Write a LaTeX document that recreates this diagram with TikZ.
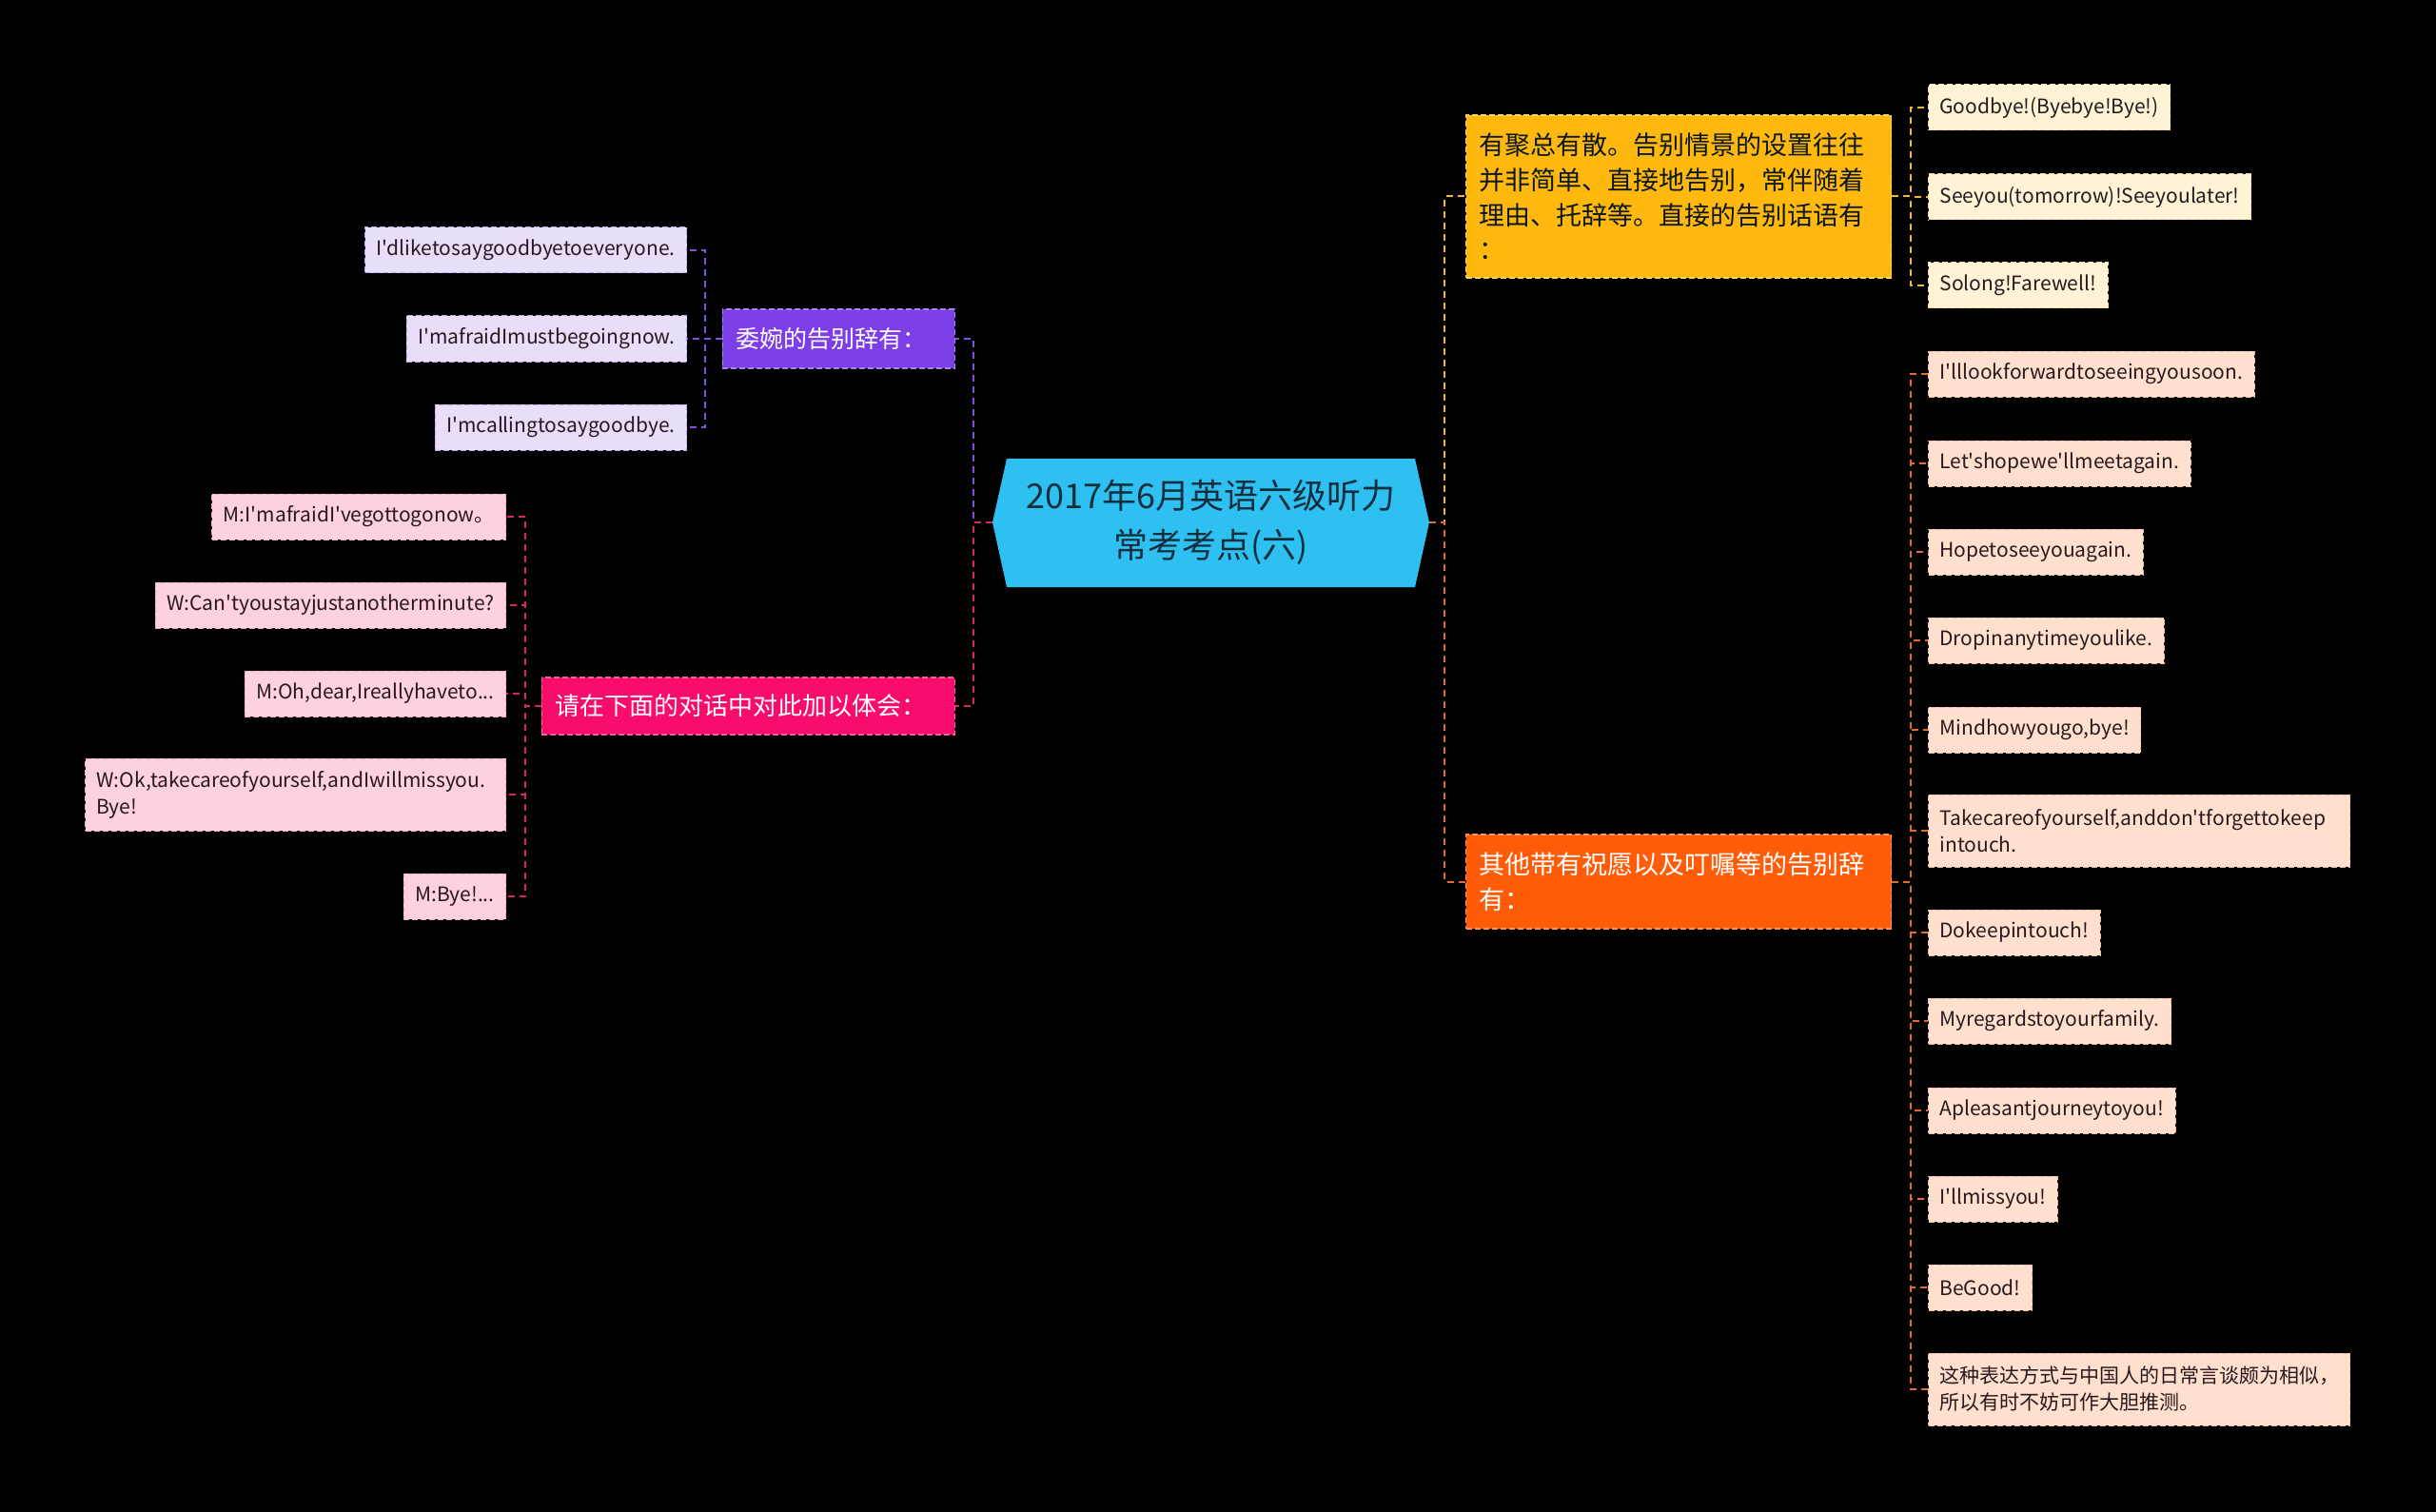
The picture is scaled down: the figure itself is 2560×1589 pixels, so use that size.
\documentclass[tikz,border=0pt]{standalone}
\usepackage{fontspec}
\newfontfamily\cjkfont{Noto Sans CJK SC}
\usetikzlibrary{
    positioning,
    calc
}
\definecolor{RootCyan}{RGB}{46,192,240}
\definecolor{RootInk}{RGB}{24,58,76}
\definecolor{BranchPurple}{RGB}{124,62,230}
\definecolor{LeafPurple}{RGB}{232,222,250}
\definecolor{LinePurple}{RGB}{130,80,225}
\definecolor{BranchPink}{RGB}{248,12,108}
\definecolor{LeafPink}{RGB}{253,208,226}
\definecolor{LinePink}{RGB}{215,40,100}
\definecolor{BranchAmber}{RGB}{255,184,14}
\definecolor{LeafAmber}{RGB}{255,243,215}
\definecolor{LineAmber}{RGB}{240,185,40}
\definecolor{BranchOrange}{RGB}{255,92,10}
\definecolor{LeafOrange}{RGB}{255,224,206}
\definecolor{LineOrange}{RGB}{230,105,45}
\definecolor{LeafInk}{RGB}{40,25,30}

\begin{document}
\begin{tikzpicture}[
    x=1pt, y=-1pt,
    link/.style={dash pattern=on 7pt off 5pt, line width=2pt},
    branch/.style={rectangle, dash pattern=on 6pt off 3pt, line width=1.2pt,
        inner xsep=14pt, inner ysep=0pt, align=left},
    leaf/.style={rectangle, dash pattern=on 6pt off 3pt, line width=1pt,
        inner xsep=12pt, inner ysep=0pt, minimum height=48pt, align=left,
        text=LeafInk, font=\cjkfont\fontsize{21}{28}\selectfont}
]

\useasboundingbox (0,0) rectangle (2560,1589);
\fill[black] (0,0) rectangle (2560,1589);

\fill[RootCyan]
    (1043,549) -- (1058,482) -- (1487,482) -- (1502,549)
    -- (1487,617) -- (1058,617) -- cycle;
\node[inner sep=0pt, minimum width=459pt, minimum height=135pt, align=center,
    text=RootInk!80!black, font=\cjkfont\fontsize{36}{52}\selectfont]
    (root) at (1272.5,549) {2017年6月英语六级听力\\常考考点(六)};

\node[branch, anchor=east, fill=BranchPurple, draw=BranchPurple!65!white,
    text=white, text width=216pt, minimum height=62pt,
    font=\cjkfont\fontsize{25}{32}\selectfont]
    (polite) at (1004,356) {委婉的告别辞有：};

\node[branch, anchor=east, fill=BranchPink, draw=BranchPink!65!white,
    text=white, text width=406pt, minimum height=60pt,
    font=\cjkfont\fontsize{26}{32}\selectfont]
    (dialog) at (1004,742) {请在下面的对话中对此加以体会：};

\node[branch, anchor=west, fill=BranchAmber, draw=BranchAmber!65!white,
    text=RootInk!40!black, text width=419pt, minimum height=171pt,
    font=\cjkfont\fontsize{27}{36.7}\selectfont]
    (direct) at (1540,206.5) {有聚总有散。告别情景的设置往往\\并非简单、直接地告别，常伴随着\\理由、托辞等。直接的告别话语有\\：};

\node[branch, anchor=west, fill=BranchOrange, draw=BranchOrange!65!white,
    text=white, text width=419pt, minimum height=99pt,
    font=\cjkfont\fontsize{27}{36.7}\selectfont]
    (wishes) at (1540,926.5) {其他带有祝愿以及叮嘱等的告别辞\\有：};

\node[leaf, anchor=east, fill=LeafPurple, draw=LinePurple!50!white] (polite1) at (722,263) {I'dliketosaygoodbyetoeveryone.};
\node[leaf, anchor=east, fill=LeafPurple, draw=LinePurple!50!white] (polite2) at (722,356) {I'mafraidImustbegoingnow.};
\node[leaf, anchor=east, fill=LeafPurple, draw=LinePurple!50!white] (polite3) at (722,449) {I'mcallingtosaygoodbye.};

\node[leaf, anchor=east, fill=LeafPink, draw=LinePink!40!white] (dialog1) at (532,543) {M:I'mafraidI'vegottogonow。};
\node[leaf, anchor=east, fill=LeafPink, draw=LinePink!40!white] (dialog2) at (532,636) {W:Can'tyoustayjustanotherminute?};
\node[leaf, anchor=east, fill=LeafPink, draw=LinePink!40!white] (dialog3) at (532,729) {M:Oh,dear,Ireallyhaveto...};
\node[leaf, anchor=east, fill=LeafPink, draw=LinePink!40!white, text width=418pt, minimum height=76pt] (dialog4) at (532,835) {W:Ok,takecareofyourself,andIwillmissyou.\\Bye!};
\node[leaf, anchor=east, fill=LeafPink, draw=LinePink!40!white] (dialog5) at (532,942) {M:Bye!...};

\node[leaf, anchor=west, fill=LeafAmber, draw=LineAmber!50!white] (direct1) at (2026,113) {Goodbye!(Byebye!Bye!)};
\node[leaf, anchor=west, fill=LeafAmber, draw=LineAmber!50!white] (direct2) at (2026,207) {Seeyou(tomorrow)!Seeyoulater!};
\node[leaf, anchor=west, fill=LeafAmber, draw=LineAmber!50!white] (direct3) at (2026,300) {Solong!Farewell!};

\node[leaf, anchor=west, fill=LeafOrange, draw=LineOrange!45!white] (wish1) at (2026,393) {I'lllookforwardtoseeingyousoon.};
\node[leaf, anchor=west, fill=LeafOrange, draw=LineOrange!45!white] (wish2) at (2026,487) {Let'shopewe'llmeetagain.};
\node[leaf, anchor=west, fill=LeafOrange, draw=LineOrange!45!white] (wish3) at (2026,580) {Hopetoseeyouagain.};
\node[leaf, anchor=west, fill=LeafOrange, draw=LineOrange!45!white] (wish4) at (2026,673) {Dropinanytimeyoulike.};
\node[leaf, anchor=west, fill=LeafOrange, draw=LineOrange!45!white] (wish5) at (2026,767) {Mindhowyougo,bye!};
\node[leaf, anchor=west, fill=LeafOrange, draw=LineOrange!45!white, text width=419pt, minimum height=76pt] (wish6) at (2026,873) {Takecareofyourself,anddon'tforgettokeep\\intouch.};
\node[leaf, anchor=west, fill=LeafOrange, draw=LineOrange!45!white] (wish7) at (2026,980) {Dokeepintouch!};
\node[leaf, anchor=west, fill=LeafOrange, draw=LineOrange!45!white] (wish8) at (2026,1073) {Myregardstoyourfamily.};
\node[leaf, anchor=west, fill=LeafOrange, draw=LineOrange!45!white] (wish9) at (2026,1167) {Apleasantjourneytoyou!};
\node[leaf, anchor=west, fill=LeafOrange, draw=LineOrange!45!white] (wish10) at (2026,1260) {I'llmissyou!};
\node[leaf, anchor=west, fill=LeafOrange, draw=LineOrange!45!white] (wish11) at (2026,1353) {BeGood!};
\node[leaf, anchor=west, fill=LeafOrange, draw=LineOrange!45!white, text width=419pt, minimum height=76pt] (wish12) at (2026,1460) {这种表达方式与中国人的日常言谈颇为相似，\\所以有时不妨可作大胆推测。};

\draw[link, LinePurple] (root.west) -| ($(polite.east)+(19,0)$) -- (polite.east);
\draw[link, LinePink] (root.west) -| ($(dialog.east)+(19,0)$) -- (dialog.east);
\draw[link, LineAmber] (root.east) -| ($(direct.west)+(-22,0)$) -- (direct.west);
\draw[link, LineOrange] (root.east) -| ($(wishes.west)+(-22,0)$) -- (wishes.west);

\draw[link, LinePurple] (polite.west) -| ($(polite1.east)+(19,0)$) -- (polite1.east);
\draw[link, LinePurple] (polite.west) -| ($(polite2.east)+(19,0)$) -- (polite2.east);
\draw[link, LinePurple] (polite.west) -| ($(polite3.east)+(19,0)$) -- (polite3.east);

\draw[link, LinePink] (dialog.west) -| ($(dialog1.east)+(20,0)$) -- (dialog1.east);
\draw[link, LinePink] (dialog.west) -| ($(dialog2.east)+(20,0)$) -- (dialog2.east);
\draw[link, LinePink] (dialog.west) -| ($(dialog3.east)+(20,0)$) -- (dialog3.east);
\draw[link, LinePink] (dialog.west) -| ($(dialog4.east)+(20,0)$) -- (dialog4.east);
\draw[link, LinePink] (dialog.west) -| ($(dialog5.east)+(20,0)$) -- (dialog5.east);

\draw[link, LineAmber] (direct.east) -| ($(direct1.west)+(-18,0)$) -- (direct1.west);
\draw[link, LineAmber] (direct.east) -| ($(direct2.west)+(-18,0)$) -- (direct2.west);
\draw[link, LineAmber] (direct.east) -| ($(direct3.west)+(-18,0)$) -- (direct3.west);

\draw[link, LineOrange] (wishes.east) -| ($(wish1.west)+(-18,0)$) -- (wish1.west);
\draw[link, LineOrange] (wishes.east) -| ($(wish2.west)+(-18,0)$) -- (wish2.west);
\draw[link, LineOrange] (wishes.east) -| ($(wish3.west)+(-18,0)$) -- (wish3.west);
\draw[link, LineOrange] (wishes.east) -| ($(wish4.west)+(-18,0)$) -- (wish4.west);
\draw[link, LineOrange] (wishes.east) -| ($(wish5.west)+(-18,0)$) -- (wish5.west);
\draw[link, LineOrange] (wishes.east) -| ($(wish6.west)+(-18,0)$) -- (wish6.west);
\draw[link, LineOrange] (wishes.east) -| ($(wish7.west)+(-18,0)$) -- (wish7.west);
\draw[link, LineOrange] (wishes.east) -| ($(wish8.west)+(-18,0)$) -- (wish8.west);
\draw[link, LineOrange] (wishes.east) -| ($(wish9.west)+(-18,0)$) -- (wish9.west);
\draw[link, LineOrange] (wishes.east) -| ($(wish10.west)+(-18,0)$) -- (wish10.west);
\draw[link, LineOrange] (wishes.east) -| ($(wish11.west)+(-18,0)$) -- (wish11.west);
\draw[link, LineOrange] (wishes.east) -| ($(wish12.west)+(-18,0)$) -- (wish12.west);

\end{tikzpicture}
\end{document}
